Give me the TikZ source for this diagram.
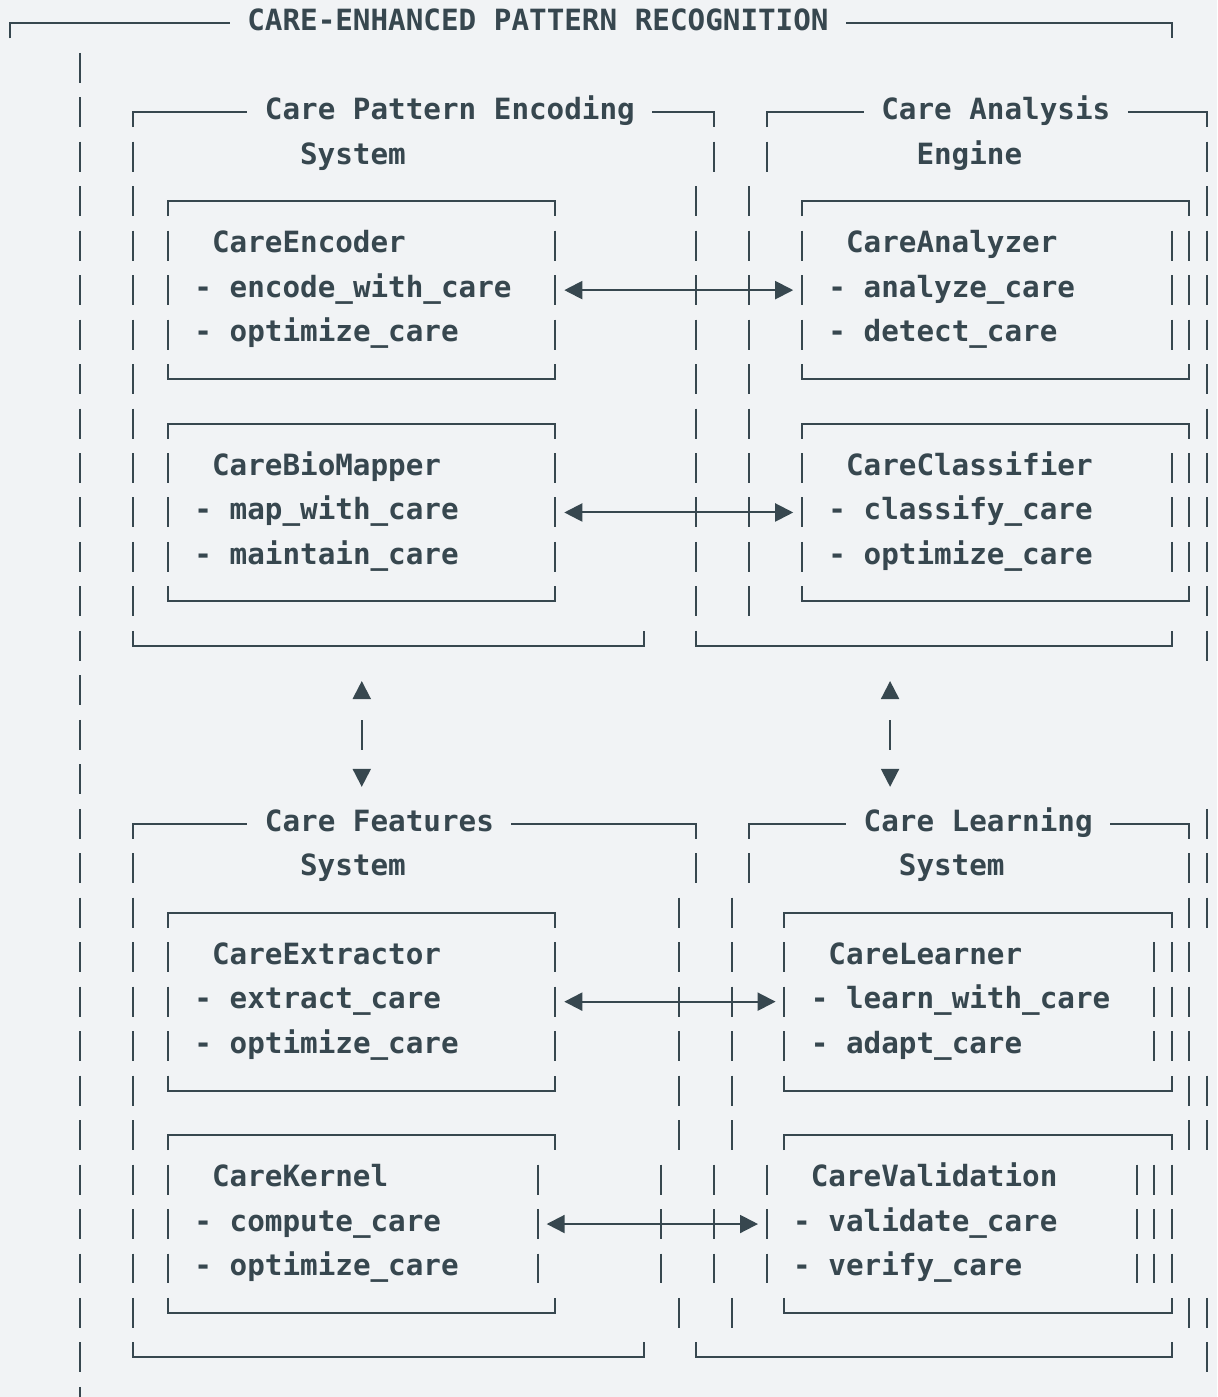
\documentclass[tikz,border=0pt]{standalone}
\usepackage{fontspec}
\setmonofont{DejaVu Sans Mono}
\usetikzlibrary{arrows.meta}
\definecolor{hinter}{HTML}{F1F3F5}
\definecolor{tinte}{HTML}{37474F}

\begin{document}
\begin{tikzpicture}[x=8.805pt, y=-22.235pt,
		>={Triangle[length=9pt, width=9pt]},   %Pfeilspitzen
		line width=1pt, color=tinte,
		font=\fontsize{14.63pt}{17pt}\selectfont\ttfamily\bfseries,
		txt/.style={anchor=base west, inner sep=0pt, outer sep=0pt},
		vpfeil/.style={<->, dash pattern=on 15pt off 40pt, dash phase=44.25pt}]
		%Hintergrund
		\useasboundingbox (-0.543,-0.524) rectangle (68.566,30.89);
		\fill[hinter] (-0.543,-0.524) rectangle (68.566,30.89);
		% Titelzeilen der Rahmen
		\foreach \a/\b/\r in {0/12.5/0, 7/13.5/2, 43/48.5/2, 7/13.5/18, 42/47.5/18}
			\draw (\a,\r+.337) -- (\a,\r) -- (\b,\r);
		\foreach \a/\b/\r in {47.5/66/0, 36.5/40/2, 63.5/68/2, 28.5/39/18, 62.5/67/18}
			\draw (\a,\r) -- (\b,\r) -- (\b,\r+.337);
		% Kanten oben und unten
		\foreach \a/\b/\r in {9/31/4, 9/31/9, 45/67/4, 45/67/9, 9/31/20, 9/31/25, 44/66/20, 44/66/25}
			\draw (\a,\r+.337) -- (\a,\r) -- (\b,\r) -- (\b,\r+.337);
		\foreach \a/\b/\r in {9/31/8, 9/31/13, 45/67/8, 45/67/13, 7/36/14, 39/66/14,
				9/31/24, 9/31/29, 44/66/24, 44/66/29, 7/36/30, 39/66/30}
			\draw (\a,\r-.337) -- (\a,\r) -- (\b,\r) -- (\b,\r-.337);
		% senkrechte Striche, Zeile fuer Zeile
		\foreach \c/\a/\b in {4/1/31, 7/3/13, 7/19/29, 40/3/3, 39/4/13, 43/3/3, 42/4/13, 68/3/14,
				9/5/7, 9/10/12, 9/21/23, 9/26/28, 31/5/7, 31/10/12, 31/21/23, 30/26/28,
				45/5/7, 45/10/12, 66/5/7, 66/10/12, 67/5/7, 67/10/12,
				39/19/19, 38/20/25, 38/29/29, 37/26/28, 42/19/19, 41/20/25, 41/29/29, 40/26/28,
				44/21/23, 43/26/28, 64/26/28, 65/21/23, 65/26/28, 66/21/23, 66/26/28,
				67/19/25, 67/29/29, 68/18/20, 68/24/25, 68/29/30}
			\foreach \r in {\a,...,\b} \draw (\c,\r-.337) -- (\c,\r+.337);
		% Texte
		\foreach \n/\c/\r/\t in {titel/14/0/CARE-ENHANCED PATTERN RECOGNITION,
				pe/15/2/Care Pattern Encoding, pe-sys/17/3/System,
				ca/50/2/Care Analysis, ca-eng/52/3/Engine,
				enc/12/5/CareEncoder, enc-a/11/6/- encode\_with\_care, enc-b/11/7/- optimize\_care,
				ana/48/5/CareAnalyzer, ana-a/47/6/- analyze\_care, ana-b/47/7/- detect\_care,
				bio/12/10/CareBioMapper, bio-a/11/11/- map\_with\_care, bio-b/11/12/- maintain\_care,
				cls/48/10/CareClassifier, cls-a/47/11/- classify\_care, cls-b/47/12/- optimize\_care,
				cf/15/18/Care Features, cf-sys/17/19/System,
				cl/49/18/Care Learning, cl-sys/51/19/System,
				ext/12/21/CareExtractor, ext-a/11/22/- extract\_care, ext-b/11/23/- optimize\_care,
				lrn/47/21/CareLearner, lrn-a/46/22/- learn\_with\_care, lrn-b/46/23/- adapt\_care,
				ker/12/26/CareKernel, ker-a/11/27/- compute\_care, ker-b/11/28/- optimize\_care,
				val/46/26/CareValidation, val-a/45/27/- validate\_care, val-b/45/28/- verify\_care}
			\node[txt] (\n) at (\c-.5,\r+.164) {\t};
		% Endpunkte der Pfeile
		\coordinate (enc-e) at (31.5,6);  \coordinate (ana-w) at (44.5,6);
		\coordinate (bio-e) at (31.5,11); \coordinate (cls-w) at (44.5,11);
		\coordinate (ext-e) at (31.5,22); \coordinate (lrn-w) at (43.5,22);
		\coordinate (ker-e) at (30.5,27); \coordinate (val-w) at (42.5,27);
		\coordinate (pe-s) at (20,14.79); \coordinate (cf-n) at (20,17.17);
		\coordinate (ca-s) at (50,14.79); \coordinate (cl-n) at (50,17.17);
		% Pfeile
		\draw[<->] (enc-e) -- (ana-w);
		\draw[<->] (bio-e) -- (cls-w);
		\draw[<->] (ext-e) -- (lrn-w);
		\draw[<->] (ker-e) -- (val-w);
		\draw[vpfeil] (pe-s) -- (cf-n);
		\draw[vpfeil] (ca-s) -- (cl-n);
	\end{tikzpicture}
\end{document}
